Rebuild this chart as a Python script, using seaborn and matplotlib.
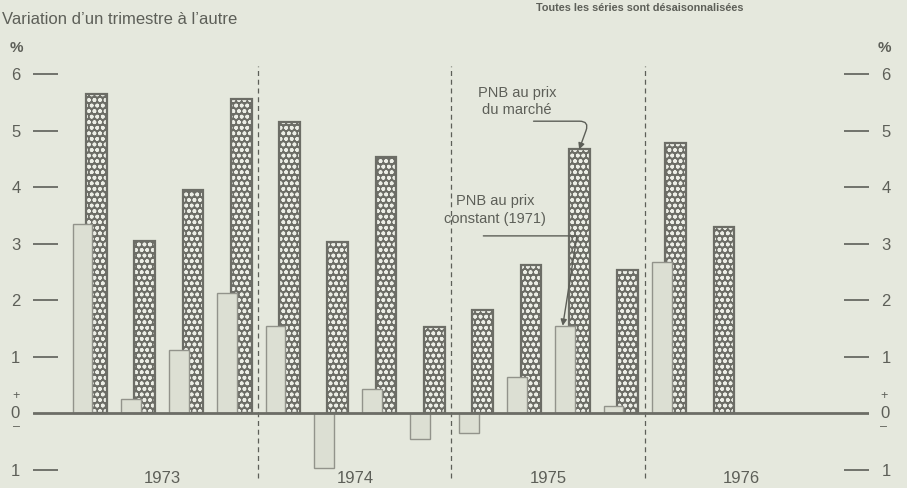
import numpy as np
import matplotlib
matplotlib.use("Agg")
import matplotlib.pyplot as plt
import seaborn as sns
from matplotlib.patches import Rectangle

sns.set_style("white")
plt.rcParams.update({
    "font.family": ["Liberation Sans", "DejaVu Sans"],
    "hatch.linewidth": 1.1,
})

# données (variation d'un trimestre à l'autre, %)
quarters = ["1973-1", "1973-2", "1973-3", "1973-4",
            "1974-1", "1974-2", "1974-3", "1974-4",
            "1975-1", "1975-2", "1975-3", "1975-4",
            "1976-1", "1976-2"]
years = ["1973", "1974", "1975", "1976"]
pnb_constant = [3.35, 0.25, 1.12, 2.13, 1.55, -0.97, 0.43, -0.45,
                -0.35, 0.65, 1.55, 0.13, 2.67, np.nan]
pnb_marche = [5.66, 3.05, 3.95, 5.56, 5.15, 3.03, 4.53, 1.52,
              1.83, 2.62, 4.67, 2.54, 4.79, 3.30]
y_ticks = [-1, 1, 2, 3, 4, 5, 6]
y_labels = ["1", "1", "2", "3", "4", "5", "6"]

bg = "#e5e8dd"
ink = "#5d5f58"
dark = "#6c6d66"
light_face = "#dcdfd3"
light_edge = "#92938b"

fig = plt.figure(figsize=(9.07, 4.88), dpi=100, facecolor=bg)
ax = fig.add_axes([33 / 907, 1 - 486.75 / 488, 836 / 907, 435.05 / 488])
ax.set_facecolor(bg)

pos = np.arange(len(quarters))
off = 0.145

# PNB au prix du marché (barres tramées, derrière)
n1 = len(ax.patches)
sns.barplot(x=pos + off, y=pnb_marche, native_scale=True, width=0.43,
            errorbar=None, color=dark, ax=ax)
for p in list(ax.patches[n1:]):
    p.set_facecolor(dark)
    p.set_edgecolor("#eceee6")
    p.set_hatch("ooo")
    p.set_linewidth(0)
    p.set_zorder(2)
    ax.add_patch(Rectangle(p.get_xy(), p.get_width(), p.get_height(),
                           fill=False, edgecolor=dark, lw=1.6, zorder=2.5))

# PNB au prix constant (barres claires, devant)
n0 = len(ax.patches)
sns.barplot(x=pos - off, y=pnb_constant, native_scale=True, width=0.41,
            errorbar=None, color=light_face, ax=ax)
for p in ax.patches[n0:]:
    p.set_facecolor(light_face)
    p.set_edgecolor(light_edge)
    p.set_linewidth(1.0)
    p.set_zorder(3)

ax.axhline(0, color=dark, lw=2, zorder=5)
ax.vlines([3.5, 7.5, 11.5], -1.15, 6.15, colors=ink, lw=0.9,
          linestyles=(0, (4, 3)), zorder=1)

ax.set_xlim(-1.17, 16.15)
ax.set_ylim(-1.3, 6.4)
ax.set_xticks([])
ax.set_xlabel("")
ax.set_yticks(y_ticks)
ax.set_yticklabels(y_labels)
ax.tick_params(axis="y", direction="in", length=18, width=1.2, color=ink,
               labelcolor=ink, labelsize=12, pad=9,
               left=True, right=True, labelleft=True, labelright=True)
sns.despine(ax=ax, left=True, bottom=True)

ytr = ax.get_yaxis_transform()
for x, ha in [(-0.0156, "right"), (1.0135, "left")]:
    ax.text(x, 0, "0", transform=ytr, ha=ha, va="center", fontsize=12, color=ink)
    ax.text(x, 0.3, "+", transform=ytr, ha=ha, va="center", fontsize=9, color=ink)
    ax.text(x, -0.24, "\u2013", transform=ytr, ha=ha, va="center",
            fontsize=9, color=ink)
ax.text(-0.02, 6.47, "%", transform=ytr, ha="center", va="center",
        fontsize=11, color=ink, fontweight="bold")
ax.text(1.0185, 6.47, "%", transform=ytr, ha="center", va="center",
        fontsize=11, color=ink, fontweight="bold")

for k, yr in enumerate(years):
    ax.text(4 * k + 1.5, -1.16, yr, ha="center", va="center",
            fontsize=12, color=ink)

fig.text(0.002, 1 - 20 / 488, "Variation d\u2019un trimestre \u00e0 l\u2019autre",
         ha="left", va="center", fontsize=12, color=ink)
fig.text(640 / 907, 1 - 8 / 488, "Toutes les s\u00e9ries sont d\u00e9saisonnalis\u00e9es",
         ha="center", va="center", fontsize=7.8, color=ink, fontweight="bold")

# étiquettes fléchées
i_m = 10
ax.text(8.86, 5.52, "PNB au prix\ndu march\u00e9", ha="center", va="center",
        fontsize=10.5, color=ink, linespacing=1.3)
ax.annotate("", xy=(pos[i_m] + off, pnb_marche[i_m]), xytext=(9.2, 5.17),
            arrowprops=dict(arrowstyle="-|>", color=ink, lw=1, mutation_scale=9,
                            shrinkA=0, shrinkB=0,
                            connectionstyle="angle,angleA=0,angleB=70,rad=10"),
            zorder=6)
ax.text(8.40, 3.6, "PNB au prix\nconstant (1971)", ha="center", va="center",
        fontsize=10.5, color=ink, linespacing=1.3)
ax.annotate("", xy=(pos[i_m] - off - 0.05, pnb_constant[i_m]), xytext=(8.16, 3.14),
            arrowprops=dict(arrowstyle="-|>", color=ink, lw=1, mutation_scale=9,
                            shrinkA=0, shrinkB=0,
                            connectionstyle="angle,angleA=0,angleB=81,rad=2"),
            zorder=6)

fig.savefig("out.png", dpi=100, facecolor=bg)
